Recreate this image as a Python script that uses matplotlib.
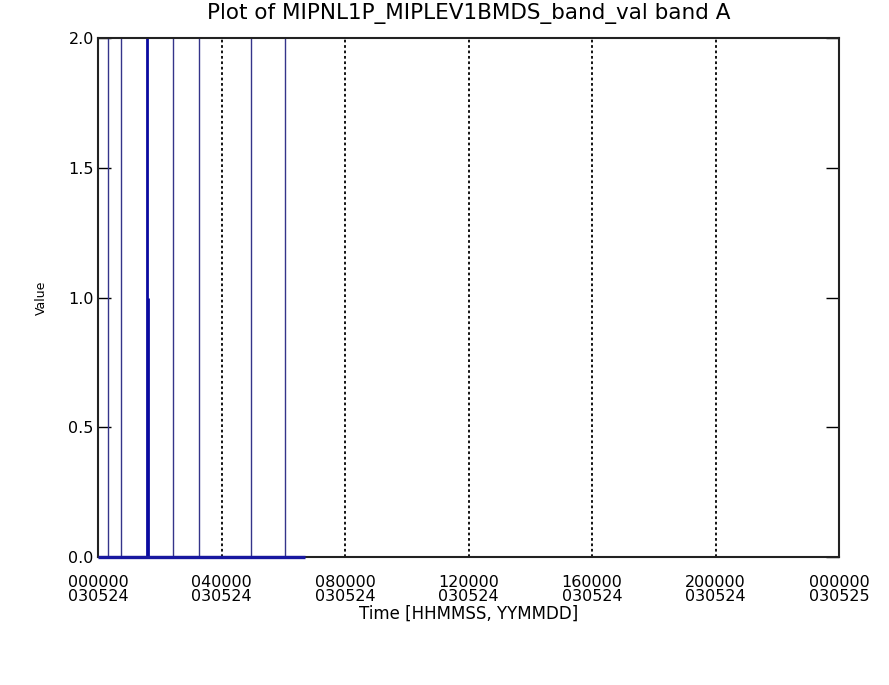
import numpy as np
import matplotlib.pyplot as plt

# Spike positions (seconds since 000000 on 030524)
thin_times = [1166, 2682, 8745, 11777, 17840, 21804]
thin_vals = [2.0, 2.0, 2.0, 2.0, 2.0, 2.0]
thick_times = [5713, 5830]
thick_vals = [2.0, 1.0]
# span of the flat zero part of the record
base_times = [0, 24136]
base_vals = [0.0, 0.0]

x_ticks = [0, 14400, 28800, 43200, 57600, 72000, 86400]
x_labels = ['000000\n030524', '040000\n030524', '080000\n030524', '120000\n030524',
            '160000\n030524', '200000\n030524', '000000\n030525']
y_ticks = [0.0, 0.5, 1.0, 1.5, 2.0]

fig = plt.figure(figsize=(8.89, 6.85), dpi=100)
ax = fig.add_axes([98 / 889, 1 - 557 / 685, 741 / 889, 519 / 685])

ax.plot(base_times, base_vals, color='#1818a0', lw=2.4, solid_capstyle='butt',
        zorder=3, clip_on=False)
ax.vlines(thin_times, 0, thin_vals, color='#34348a', lw=1.0)
ax.vlines(thick_times, 0, thick_vals, color='#0a0aa0', lw=2.0)

ax.set_xlim(0, 86400)
ax.set_ylim(0, 2.0)
ax.set_xticks(x_ticks)
ax.set_xticklabels(x_labels, fontsize=11.5, linespacing=0.95)
ax.set_yticks(y_ticks)
ax.set_yticklabels(['%.1f' % v for v in y_ticks], fontsize=11.5)

ax.tick_params(axis='x', length=0, pad=13)
ax.tick_params(axis='y', direction='in', length=9.5, width=1.0, right=True, pad=3)
ax.grid(axis='x', color='black', linestyle=(0, (1.5, 1.5)), lw=1.3)

for s in ax.spines.values():
    s.set_linewidth(1.5)
    s.set_color('#222222')

ax.set_title('Plot of MIPNL1P_MIPLEV1BMDS_band_val band A', fontsize=15.5, pad=14)
ax.set_xlabel('Time [HHMMSS, YYMMDD]', fontsize=12, labelpad=0)
ax.set_ylabel('Value', fontsize=9, labelpad=15)

fig.savefig('out.png', dpi=100)
